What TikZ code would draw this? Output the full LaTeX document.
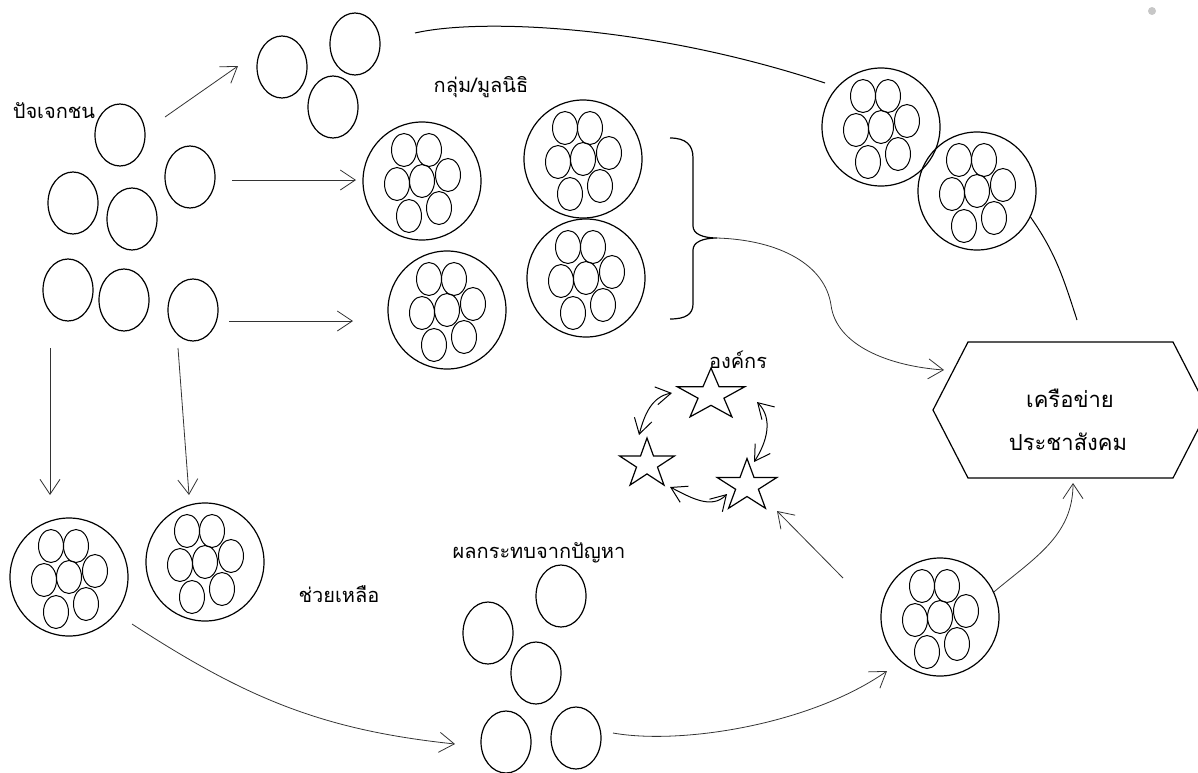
\documentclass[tikz,border=0pt]{standalone}
\usepackage{fontspec}
\setmainfont[Script=Thai]{Loma}
\usetikzlibrary{shapes.geometric, arrows.meta}

\begin{document}
\begin{tikzpicture}[
        x=1pt, y=1pt,
        person/.style={ellipse, draw, line width=1.2pt, minimum width=50pt, minimum height=62pt, inner sep=0pt},
        member/.style={ellipse, draw, line width=1pt, minimum width=25pt, minimum height=33pt, inner sep=0pt},
        team/.style={circle, draw, line width=1.2pt, minimum size=118pt, inner sep=0pt},
        starbox/.style={star, star points=5, star point ratio=2.618, draw, line width=1.2pt, inner sep=0pt, transform shape},
        thaitext/.style={font=\fontsize{20}{24}\selectfont, inner sep=0pt, anchor=base},
        arrow/.style={-{Straight Barb[length=15pt, width=20pt]}, line width=0.8pt, black!80},
        twoway/.style={{Straight Barb[length=15pt, width=18pt]}-{Straight Barb[length=15pt, width=18pt]}, line width=1pt},
        thinline/.style={line width=1pt}
    ]
    \useasboundingbox (0,0) rectangle (1198,-772);

    % single persons
    \foreach \name/\x/\y in {pa/120/135, pb/73/203, pc/132/219, pd/190/177, pe/68/290, pf/124/300, pg/193/310,
                             ta/282/67, tb/355/44, tc/333/107,
                             ha/561/596, hb/488/633, hc/536/673, hd/506/742, he/576/738}
        \node[person] (\name) at (\x,-\y) {};

    % groups of seven
    \foreach \name/\x/\y in {ga/422/181, gb/583/159, gc/447/310, gd/586/278, ge/881/127, gf/977/191,
                             gg/69/577, gh/205/562, gi/940/617} {
        \node[team] (\name) at (\x,-\y) {};
        \foreach \dx/\dy [count=\k] in {-18/31, 7/31, 26/6, -25/-3, 0/0, -13/-35, 17/-27}
            \node[member] (\name-\k) at ({\x+\dx},{\dy-\y}) {};
    }

    % stars
    \begin{scope}[shift={(711,-395)}, xscale=1.32]
        \node[starbox, minimum size=54pt] (orga) at (0,0) {};
    \end{scope}
    \begin{scope}[shift={(647,-464)}, xscale=1.11]
        \node[starbox, minimum size=52pt] (orgb) at (0,0) {};
    \end{scope}
    \begin{scope}[shift={(747,-486)}, xscale=1.14]
        \node[starbox, minimum size=55pt] (orgc) at (0,0) {};
    \end{scope}

    % hexagon
    \draw[line width=1.2pt] (933,-410) -- (968,-342) -- (1173,-342) -- (1208,-410) -- (1173,-478) -- (968,-478) -- cycle;
    \node[thaitext, font=\fontsize{22}{26}\selectfont] (net1) at (1070,-407) {เครือข่าย};
    \node[thaitext, font=\fontsize{22}{26}\selectfont] (net2) at (1068,-450) {ประชาสังคม};

    % labels
    \node[thaitext] (indiv) at (54,-118) {ปัจเจกชน};
    \node[thaitext] (found) at (481,-92) {กลุ่ม/มูลนิธิ};
    \node[thaitext] (help) at (339,-602) {ช่วยเหลือ};
    \node[thaitext] (impact) at (539,-558) {ผลกระทบจากปัญหา};
    \node[thaitext] (org) at (738,-368) {องค์กร};

    \node[circle, fill=black!22, minimum size=8pt, inner sep=0pt] (dot) at (1152,-11) {};

    % brace
    \draw[line width=1.2pt] (670,-138) .. controls (686,-138) and (693,-145) .. (693,-158) -- (693,-226)
        .. controls (693,-234) and (703,-238) .. (717,-238)
        .. controls (703,-238) and (693,-242) .. (693,-250) -- (693,-304)
        .. controls (693,-314) and (686,-319) .. (670,-319);
    \coordinate (bracetip) at (717,-238);

    % free ends
    \coordinate (trioS) at (165,-117);  \coordinate (trioE) at (238,-66);
    \coordinate (midS) at (232,-180);   \coordinate (midE) at (356,-180);
    \coordinate (lowS) at (229,-321);   \coordinate (lowE) at (353,-321);
    \coordinate (downaS) at (50,-348);  \coordinate (downaE) at (50,-495);
    \coordinate (downbS) at (178,-348); \coordinate (downbE) at (189,-495);
    \coordinate (helpS) at (132,-624);  \coordinate (helpE) at (455,-744);
    \coordinate (impS) at (613,-733);   \coordinate (impE) at (887,-671);
    \coordinate (netB) at (1073,-483);
    \coordinate (orgS) at (843,-578);   \coordinate (orgE) at (777,-511);
    \coordinate (netL) at (944,-370);
    \coordinate (topS) at (415,-33);    \coordinate (topE) at (825,-83);
    \coordinate (netT) at (1077,-320);
    \coordinate (rabS) at (639,-435);   \coordinate (rabE) at (672,-393);
    \coordinate (rbcS) at (757,-402);   \coordinate (rbcE) at (754,-462);
    \coordinate (rcaS) at (670,-487);   \coordinate (rcaE) at (727,-494);

    \draw[arrow] (trioS) -- (trioE);
    \draw[arrow] (midS) -- (midE);
    \draw[arrow] (lowS) -- (lowE);
    \draw[arrow] (downaS) -- (downaE);
    \draw[arrow] (downbS) -- (downbE);
    \draw[arrow] (helpS) to[out=-33, in=174] (helpE);
    \draw[arrow] (impS) .. controls (680,-745) and (810,-725) .. (impE);
    \draw[arrow] (gi.25) to[out=40, in=-90] (netB);
    \draw[arrow] (orgS) -- (orgE);
    \draw[arrow] (bracetip) .. controls (780,-240) and (825,-265) .. (831,-305)
                 .. controls (836,-345) and (888,-366) .. (netL);
    \draw[thinline] (topS) .. controls (480,-18) and (650,-25) .. (topE);
    \draw[thinline] (gf.-26) to[out=-55, in=108] (netT);

    \draw[twoway] (rabS) to[out=75, in=190] (rabE);
    \draw[twoway] (rbcS) to[out=-45, in=57] (rbcE);
    \draw[twoway] (rcaS) to[out=-27, in=226] (rcaE);
\end{tikzpicture}
\end{document}
